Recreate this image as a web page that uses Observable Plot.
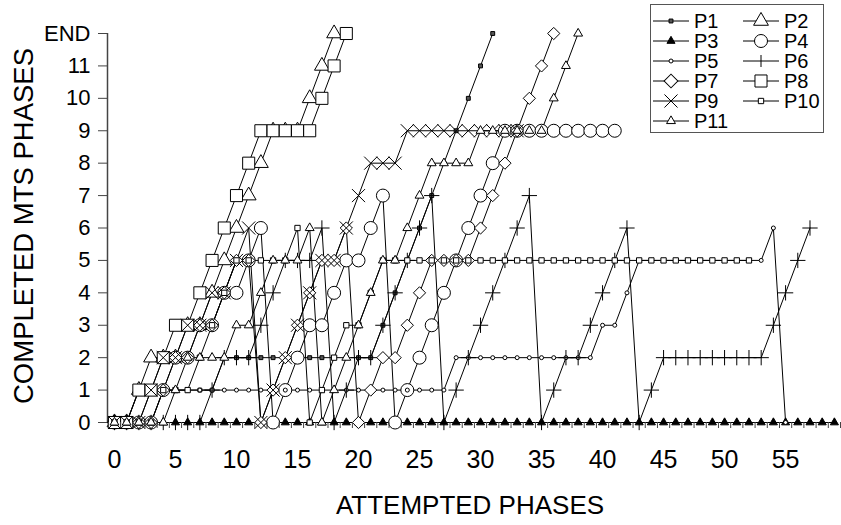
<!DOCTYPE html>
<html><head><meta charset="utf-8">
<script src="https://cdn.jsdelivr.net/npm/d3@7"></script>
<script src="https://cdn.jsdelivr.net/npm/@observablehq/plot@0.6"></script>
<style>body{margin:0;background:#fff;font-family:"Liberation Sans",Arial,sans-serif;} #wrap{position:relative;width:841px;height:525px;}</style>
</head><body><div id="wrap"></div>
<script>
// y values (completed phases) per attempted phase, starting at attempted phase 0
const P1  = [0,0,1,1,1,1,1,1,1,2,2,2,2,2,2,2,2,2,2,2,2,2,3,4,5,6,7,8,9,10,11,12];
const P2  = [0,0,1,2,2,2,3,3,4,5,6,7,8,9,9,9,10,11,12];
const P3  = [0,0,0,0,0,0,0,0,0,0,0,0,0,0,0,0,0,0,0,0,0,0,0,0,0,0,0,0,0,0,0,0,0,0,0,0,0,0,0,0,0,0,0,0,0,0,0,0,0,0,0,0,0,0,0,0,0,0,0,0];
const P4  = [0,0,0,0,1,2,2,3,3,4,4,5,6,0,1,2,3,3,4,5,5,6,7,0,1,2,3,4,5,6,7,8,9,9,9,9,9,9,9,9,9,9];
const P5  = [0,0,0,1,1,1,1,1,1,1,1,1,1,1,1,1,1,1,1,1,1,1,1,1,1,1,1,1,2,2,2,2,2,2,2,2,2,2,2,2,3,3,4,5,5,5,5,5,5,5,5,5,5,5,6,0];
const P6  = [0,0,0,0,0,0,0,0,1,2,2,2,3,4,5,5,5,6,0,1,2,2,3,4,5,6,7,0,1,2,3,4,5,6,7,0,1,2,2,3,4,5,6,0,1,2,2,2,2,2,2,2,2,2,3,4,5,6];
const P7  = [0,0,0,0,1,2,2,3,3,4,5,5,0,1,2,3,4,5,5,6,0,1,2,2,3,4,5,5,5,5,6,7,8,9,10,11,12];
const P8  = [0,0,1,1,2,3,3,4,5,6,7,8,9,9,9,9,9,10,11,12];
const P9  = [0,0,0,1,2,2,3,3,4,4,5,6,0,1,2,3,4,5,5,6,7,8,8,8,9,9,9,9,9,9,9,9,9,9];
const P10 = [0,0,0,0,1,1,1,2,3,4,5,5,5,5,5,6,0,1,2,3,3,4,5,5,5,5,5,5,5,5,5,5,5,5,5,5,5,5,5,5,5,5,5,5,5,5,5,5,5,5,5,5,5];
const P11 = [0,0,0,0,0,1,2,2,2,2,3,3,4,5,5,5,6,0,1,2,3,4,5,5,6,7,8,8,8,8,9,9,9,9,9,9,10,11,12];
const yTickLabels = ["0","1","2","3","4","5","6","7","8","9","10","11","END"];
const xTickLabels = [0,5,10,15,20,25,30,35,40,45,50,55];

const styles = {
  P1:  {symbol:"square",   r:2.2, fill:"#555"},
  P2:  {symbol:"triangle", r:5.5, fill:"white"},
  P3:  {symbol:"triangle", r:3.0, fill:"black"},
  P4:  {symbol:"circle",   r:6.5, fill:"white"},
  P5:  {symbol:"circle",   r:2.0, fill:"white"},
  P6:  {symbol:"plus",     r:5.0, fill:"none"},
  P7:  {symbol:"diamond2", r:5.5, fill:"white"},
  P8:  {symbol:"square",   r:6.8, fill:"white"},
  P9:  {symbol:"times",    r:6.0, fill:"none"},
  P10: {symbol:"square",   r:3.0, fill:"white"},
  P11: {symbol:"triangle", r:3.3, fill:"white"}
};
const seriesList = [["P1",P1],["P2",P2],["P3",P3],["P4",P4],["P5",P5],["P6",P6],["P7",P7],["P8",P8],["P9",P9],["P10",P10],["P11",P11]];
const toRows = (name, ys) => ys.map((y, i) => ({name, x: i, y}));

const marks = [];
marks.push(Plot.ruleX([-0.57], {stroke:"#444", strokeWidth:1.5}));
for (const [name, ys] of seriesList) {
  marks.push(Plot.line(toRows(name, ys), {x:"x", y:"y", stroke:"black", strokeWidth:1}));
}
for (const [name, ys] of seriesList) {
  const s = styles[name];
  marks.push(Plot.dot(toRows(name, ys), {x:"x", y:"y", symbol:()=>s.symbol, r:s.r, fill:s.fill, stroke:"black", strokeWidth:1}));
}
const halfTicks = d3.range(-0.5, 59.6, 1);
marks.push(Plot.axisX({ticks: halfTicks, tickFormat: () => "", tickSize: 6, stroke:"#444"}));
marks.push(Plot.axisX({ticks: xTickLabels, tickSize: 0, tickPadding: 28, fontSize: 25, fill:"black"}));
marks.push(Plot.axisY({ticks: d3.range(0, 13), tickFormat: d => yTickLabels[d], tickSize: 9, tickPadding: 8, fontSize: 22, stroke:"#444", fill:"black"}));

const chart = Plot.plot({
  width: 841, height: 525,
  marginLeft: 107, marginRight: 1, marginTop: 33, marginBottom: 103,
  x: {domain: [-0.57, 59.5], label: null},
  y: {domain: [0, 12], label: null},
  symbol: {type: "identity"},
  style: {fontFamily: "Liberation Sans, Arial, sans-serif", background: "white"},
  marks
});
const wrap = document.getElementById("wrap");
wrap.appendChild(chart);

const svg = d3.select(chart);
svg.append("text").attr("x", 470).attr("y", 514).attr("text-anchor","middle")
  .attr("font-size", 26).attr("font-family","Liberation Sans, Arial, sans-serif").text("ATTEMPTED PHASES");
svg.append("text").attr("transform","translate(33,226) rotate(-90)").attr("text-anchor","middle")
  .attr("font-size", 27.5).attr("font-family","Liberation Sans, Arial, sans-serif").text("COMPLETED MTS PHASES");

// legend
const leg = d3.select(wrap).append("div")
  .style("position","absolute").style("left","650px").style("top","4px")
  .style("width","174px").style("height","129px").style("border","1px solid #555")
  .style("background","white").style("box-sizing","border-box");
const legSvg = leg.append("svg").attr("width",174).attr("height",129);
const order = ["P1","P2","P3","P4","P5","P6","P7","P8","P9","P10","P11"];
const symMap = {square:d3.symbolSquare, triangle:d3.symbolTriangle, circle:d3.symbolCircle, diamond2:d3.symbolSquare, times:d3.symbolTimes};
order.forEach((name, i) => {
  const col = i % 2, row = Math.floor(i / 2);
  const x0 = col === 0 ? 2 : 92, cy = 16 + row * 20;
  legSvg.append("line").attr("x1", x0).attr("x2", x0 + 36).attr("y1", cy).attr("y2", cy).attr("stroke","black");
  const s = styles[name];
  const cx = x0 + 18;
  if (s.symbol === "plus") {
    legSvg.append("line").attr("x1", cx).attr("x2", cx).attr("y1", cy - 6).attr("y2", cy + 6).attr("stroke","black");
  } else {
    const size = Math.PI * s.r * s.r;
    legSvg.append("path").attr("d", d3.symbol(symMap[s.symbol], size)())
      .attr("transform", `translate(${cx},${cy})` + (s.symbol === "diamond2" ? " rotate(45)" : ""))
      .attr("fill", s.fill).attr("stroke","black");
  }
  legSvg.append("text").attr("x", x0 + 41).attr("y", cy + 7).attr("font-size", 20)
    .attr("font-family","Liberation Sans, Arial, sans-serif").text(name);
});
</script>
</body></html>
